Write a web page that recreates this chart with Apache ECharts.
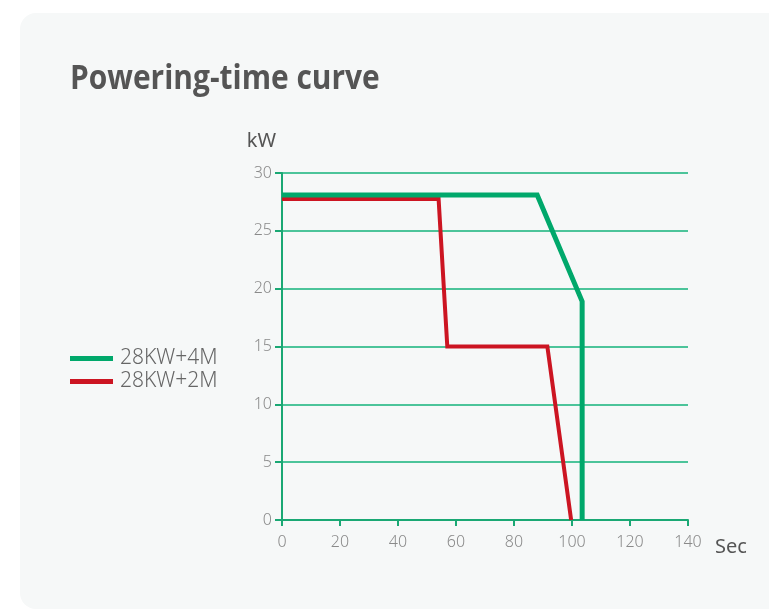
<!DOCTYPE html>
<html><head><meta charset="utf-8">
<script src="https://cdn.jsdelivr.net/npm/echarts@6/dist/echarts.min.js"></script>
<style>html,body{margin:0;padding:0;background:#fff}#c{width:769px;height:611px}</style>
</head><body><div id="c"></div>
<script>
const seriesNames = ['28KW+4M', '28KW+2M'];
const green4M = [[0, 28.1], [88, 28.1], [103.5, 18.9], [103.5, 0]];
const red2M = [[0, 27.75], [54, 27.75], [57, 15], [91.5, 15], [99.7, 0]];
const xTicks = [0, 20, 40, 60, 80, 100, 120, 140];
const yTicks = [0, 5, 10, 15, 20, 25, 30];

const chart = echarts.init(document.getElementById('c'));
const labelFont = {color: '#8a8a8a', fontSize: 16, fontFamily: 'Noto Sans', fontWeight: 300};
chart.setOption({
  animation: false,
  graphic: [{
    type: 'rect', z: -10, silent: true,
    shape: {x: 20, y: 13, width: 780, height: 596, r: 16},
    style: {fill: '#f6f8f8'}
  }, {
    type: 'text', left: 70, top: 62, scaleX: 0.88, silent: true,
    style: {text: 'Powering-time curve', fill: '#555', font: 'bold 34px "Open Sans"'}
  }],
  legend: {
    orient: 'vertical', left: 65, top: 343, itemWidth: 43, itemHeight: 5, itemGap: 2,
    icon: 'rect',
    textStyle: {color: '#666', fontSize: 21, fontFamily: 'Noto Sans', fontWeight: 300, padding: [0, 0, 0, 2]},
    data: seriesNames
  },
  grid: {left: 282, right: 81, top: 173, bottom: 91, containLabel: false},
  xAxis: {
    type: 'value', min: xTicks[0], max: xTicks[xTicks.length - 1], interval: 20,
    name: 'Sec', nameLocation: 'end', nameGap: 27,
    nameTextStyle: {color: '#555', fontSize: 20, fontFamily: 'Noto Sans', verticalAlign: 'top', padding: [17, 0, 0, 0]},
    axisLine: {show: true, lineStyle: {color: '#1aa874', width: 2}},
    axisTick: {show: true, length: 6, lineStyle: {color: '#1aa874', width: 2}},
    axisLabel: Object.assign({margin: 14}, labelFont),
    splitLine: {show: false}
  },
  yAxis: {
    type: 'value', min: yTicks[0], max: yTicks[yTicks.length - 1], interval: 5,
    name: 'kW', nameLocation: 'end', nameGap: 22,
    nameTextStyle: {color: '#555', fontSize: 20, fontFamily: 'Noto Sans', align: 'right', padding: [0, 6, 0, 0]},
    axisLine: {show: true, lineStyle: {color: '#1aa874', width: 2}},
    axisTick: {show: true, length: 7, lineStyle: {color: '#1aa874', width: 2}},
    axisLabel: Object.assign({margin: 10}, labelFont),
    splitLine: {show: true, lineStyle: {color: '#4cc49a', width: 2}}
  },
  series: [
    {name: seriesNames[0], type: 'line', data: green4M, symbol: 'none', z: 3,
     lineStyle: {color: '#00a86b', width: 5, cap: 'butt', join: 'miter'}, itemStyle: {color: '#00a86b'}},
    {name: seriesNames[1], type: 'line', data: red2M, symbol: 'none', z: 2,
     lineStyle: {color: '#cc1522', width: 4, cap: 'butt', join: 'miter'}, itemStyle: {color: '#cc1522'}}
  ]
});
</script></body></html>
